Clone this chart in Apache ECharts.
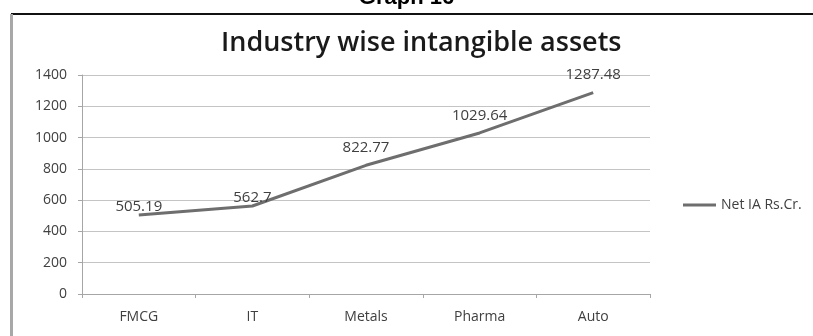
<!DOCTYPE html>
<html>
<head>
<meta charset="utf-8">
<script src="https://cdn.jsdelivr.net/npm/echarts@6/dist/echarts.min.js"></script>
<style>
  html, body { margin: 0; padding: 0; background: #fff; }
  #chart { width: 813px; height: 336px; }
</style>
</head>
<body>
<div id="chart"></div>
<script>
// Industry categories and net intangible assets (Rs. Cr.)
const industries = ['FMCG', 'IT', 'Metals', 'Pharma', 'Auto'];
const netIA = [505.19, 562.7, 822.77, 1029.64, 1287.48];
const seriesName = 'Net IA Rs.Cr.';
const yTicks = { min: 0, max: 1400, step: 200 };

const labelFont = '"Open Sans", "Liberation Sans", sans-serif';
const textGray = '#404040';
const lineGray = '#6e6e6e';

const chart = echarts.init(document.getElementById('chart'), null, { renderer: 'canvas' });

chart.setOption({
  backgroundColor: '#ffffff',
  animation: false,
  title: {
    text: 'Industry wise intangible assets',
    left: 216,
    top: 25,
    textStyle: {
      fontFamily: labelFont,
      fontSize: 27,
      fontWeight: 600,
      color: '#1a1a1a'
    }
  },
  graphic: [
    // page caption above the framed chart
    {
      type: 'text',
      left: 'center',
      top: -13,
      style: {
        text: 'Graph 16',
        font: 'bold 22px "Liberation Sans", Arial, sans-serif',
        fill: '#000'
      }
    },
    // frame: dark top rule and grey left rule
    {
      type: 'line',
      shape: { x1: 11, y1: 14, x2: 813, y2: 14 },
      style: { stroke: '#111', lineWidth: 2 }
    },
    {
      type: 'line',
      shape: { x1: 11.5, y1: 14, x2: 11.5, y2: 336 },
      style: { stroke: '#a8a8a8', lineWidth: 3 }
    }
  ],
  legend: {
    left: 678,
    top: 193,
    itemWidth: 33,
    itemHeight: 3,
    textStyle: { fontFamily: labelFont, fontSize: 14, color: textGray },
    data: [{ name: seriesName, icon: 'rect', itemStyle: { color: lineGray } }]
  },
  grid: { left: 82, right: 163, top: 75, bottom: 42 },
  xAxis: {
    type: 'category',
    data: industries,
    boundaryGap: true,
    axisLine: { lineStyle: { color: '#a6a6a6', width: 1 } },
    axisTick: { show: true, length: 4, lineStyle: { color: '#a6a6a6' } },
    axisLabel: {
      margin: 16,
      fontFamily: labelFont,
      fontSize: 14,
      color: textGray
    },
    splitLine: { show: false }
  },
  yAxis: {
    type: 'value',
    min: yTicks.min,
    max: yTicks.max,
    interval: yTicks.step,
    axisLine: { show: true, lineStyle: { color: '#a6a6a6', width: 1 } },
    axisTick: { show: true, length: 4, lineStyle: { color: '#a6a6a6' } },
    axisLabel: {
      margin: 15,
      fontFamily: labelFont,
      fontSize: 14,
      color: textGray,
      formatter: v => String(v)
    },
    splitLine: { show: true, lineStyle: { color: '#c4c4c4', width: 1.2 } }
  },
  series: [{
    name: seriesName,
    type: 'line',
    symbol: 'circle',
    symbolSize: 0,
    showSymbol: true,
    data: netIA.map((v, i) => ({
      value: v,
      label: { distance: i < 2 ? 1 : 10 }
    })),
    lineStyle: { color: lineGray, width: 3 },
    itemStyle: { color: lineGray },
    label: {
      show: true,
      position: 'top',
      fontFamily: labelFont,
      fontSize: 15,
      color: textGray,
      formatter: p => String(netIA[p.dataIndex])
    }
  }]
});
</script>
</body>
</html>
